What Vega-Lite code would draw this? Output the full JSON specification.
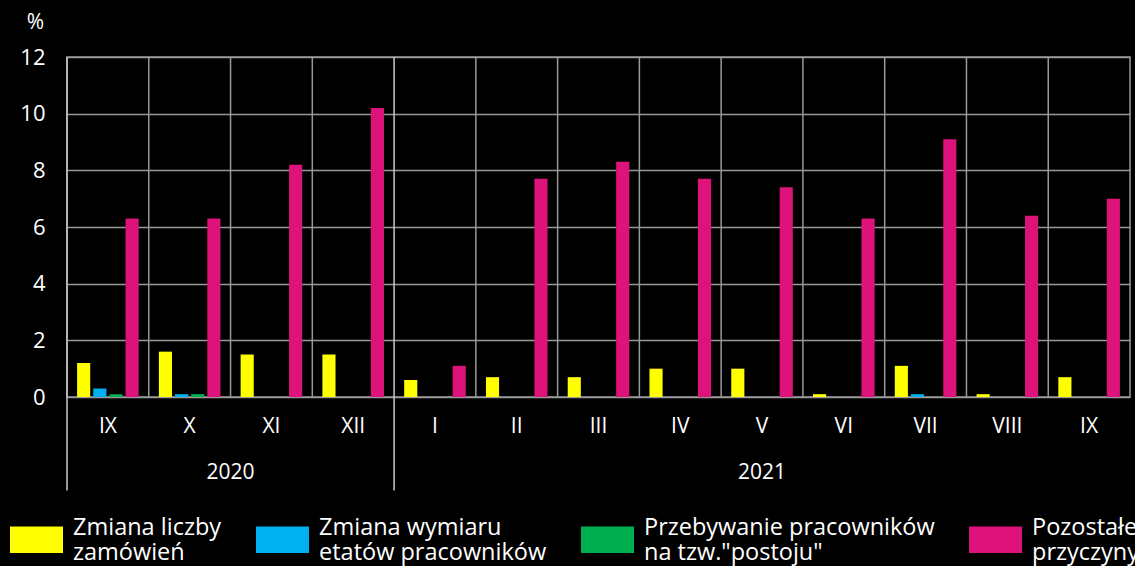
{
  "$schema": "https://vega.github.io/schema/vega-lite/v6.json",
  "width": 1063,
  "height": 340,
  "autosize": "none",
  "padding": {"left": 67, "top": 57, "right": 5, "bottom": 169},
  "background": "#000000",
  "config": {
    "font": "Open Sans",
    "view": {"stroke": "#999999", "strokeWidth": 1.5},
    "axisX": {"labelAngle": 0, "ticks": false, "domain": false, "grid": false, "labelPadding": 18, "labelFontSize": 21, "labelColor": "#ffffff", "labelFont": "Open Sans"},
    "axisY": {"grid": true, "gridColor": "#999999", "gridWidth": 1.5, "domain": false, "ticks": false, "labelPadding": 22, "labelFontSize": 22, "labelColor": "#ffffff", "labelFont": "Open Sans",
              "titleAngle": 0, "titleX": -32, "titleY": -35, "titleAlign": "center", "titleBaseline": "middle", "titleFontSize": 21, "titleFontWeight": "normal", "titleColor": "#ffffff", "titleFont": "Open Sans"},
    "legend": {"labelFont": "Open Sans"},
    "text": {"font": "Open Sans"}
  },
  "datasets": {
    "bars": [
      {"key": "2020-IX", "series": "Zmiana liczby zamówień", "value": 1.2},
      {"key": "2020-IX", "series": "Zmiana wymiaru etatów pracowników", "value": 0.3},
      {"key": "2020-IX", "series": "Przebywanie pracowników na tzw.\"postoju\"", "value": 0.1},
      {"key": "2020-IX", "series": "Pozostałe przyczyny", "value": 6.3},
      {"key": "2020-X", "series": "Zmiana liczby zamówień", "value": 1.6},
      {"key": "2020-X", "series": "Zmiana wymiaru etatów pracowników", "value": 0.1},
      {"key": "2020-X", "series": "Przebywanie pracowników na tzw.\"postoju\"", "value": 0.1},
      {"key": "2020-X", "series": "Pozostałe przyczyny", "value": 6.3},
      {"key": "2020-XI", "series": "Zmiana liczby zamówień", "value": 1.5},
      {"key": "2020-XI", "series": "Zmiana wymiaru etatów pracowników", "value": 0},
      {"key": "2020-XI", "series": "Przebywanie pracowników na tzw.\"postoju\"", "value": 0},
      {"key": "2020-XI", "series": "Pozostałe przyczyny", "value": 8.2},
      {"key": "2020-XII", "series": "Zmiana liczby zamówień", "value": 1.5},
      {"key": "2020-XII", "series": "Zmiana wymiaru etatów pracowników", "value": 0},
      {"key": "2020-XII", "series": "Przebywanie pracowników na tzw.\"postoju\"", "value": 0},
      {"key": "2020-XII", "series": "Pozostałe przyczyny", "value": 10.2},
      {"key": "2021-I", "series": "Zmiana liczby zamówień", "value": 0.6},
      {"key": "2021-I", "series": "Zmiana wymiaru etatów pracowników", "value": 0},
      {"key": "2021-I", "series": "Przebywanie pracowników na tzw.\"postoju\"", "value": 0},
      {"key": "2021-I", "series": "Pozostałe przyczyny", "value": 1.1},
      {"key": "2021-II", "series": "Zmiana liczby zamówień", "value": 0.7},
      {"key": "2021-II", "series": "Zmiana wymiaru etatów pracowników", "value": 0},
      {"key": "2021-II", "series": "Przebywanie pracowników na tzw.\"postoju\"", "value": 0},
      {"key": "2021-II", "series": "Pozostałe przyczyny", "value": 7.7},
      {"key": "2021-III", "series": "Zmiana liczby zamówień", "value": 0.7},
      {"key": "2021-III", "series": "Zmiana wymiaru etatów pracowników", "value": 0},
      {"key": "2021-III", "series": "Przebywanie pracowników na tzw.\"postoju\"", "value": 0},
      {"key": "2021-III", "series": "Pozostałe przyczyny", "value": 8.3},
      {"key": "2021-IV", "series": "Zmiana liczby zamówień", "value": 1.0},
      {"key": "2021-IV", "series": "Zmiana wymiaru etatów pracowników", "value": 0},
      {"key": "2021-IV", "series": "Przebywanie pracowników na tzw.\"postoju\"", "value": 0},
      {"key": "2021-IV", "series": "Pozostałe przyczyny", "value": 7.7},
      {"key": "2021-V", "series": "Zmiana liczby zamówień", "value": 1.0},
      {"key": "2021-V", "series": "Zmiana wymiaru etatów pracowników", "value": 0},
      {"key": "2021-V", "series": "Przebywanie pracowników na tzw.\"postoju\"", "value": 0},
      {"key": "2021-V", "series": "Pozostałe przyczyny", "value": 7.4},
      {"key": "2021-VI", "series": "Zmiana liczby zamówień", "value": 0.1},
      {"key": "2021-VI", "series": "Zmiana wymiaru etatów pracowników", "value": 0},
      {"key": "2021-VI", "series": "Przebywanie pracowników na tzw.\"postoju\"", "value": 0},
      {"key": "2021-VI", "series": "Pozostałe przyczyny", "value": 6.3},
      {"key": "2021-VII", "series": "Zmiana liczby zamówień", "value": 1.1},
      {"key": "2021-VII", "series": "Zmiana wymiaru etatów pracowników", "value": 0.1},
      {"key": "2021-VII", "series": "Przebywanie pracowników na tzw.\"postoju\"", "value": 0},
      {"key": "2021-VII", "series": "Pozostałe przyczyny", "value": 9.1},
      {"key": "2021-VIII", "series": "Zmiana liczby zamówień", "value": 0.1},
      {"key": "2021-VIII", "series": "Zmiana wymiaru etatów pracowników", "value": 0},
      {"key": "2021-VIII", "series": "Przebywanie pracowników na tzw.\"postoju\"", "value": 0},
      {"key": "2021-VIII", "series": "Pozostałe przyczyny", "value": 6.4},
      {"key": "2021-IX", "series": "Zmiana liczby zamówień", "value": 0.7},
      {"key": "2021-IX", "series": "Zmiana wymiaru etatów pracowników", "value": 0},
      {"key": "2021-IX", "series": "Przebywanie pracowników na tzw.\"postoju\"", "value": 0},
      {"key": "2021-IX", "series": "Pozostałe przyczyny", "value": 7.0}
    ],
    "months": [
      {"key": "2020-X"}, {"key": "2020-XI"}, {"key": "2020-XII"},
      {"key": "2021-II"}, {"key": "2021-III"}, {"key": "2021-IV"}, {"key": "2021-V"},
      {"key": "2021-VI"}, {"key": "2021-VII"}, {"key": "2021-VIII"}, {"key": "2021-IX"}
    ],
    "separators": [
      {"key": "2020-IX"}, {"key": "2021-I"}
    ],
    "years": [
      {"key": "2020-X", "year": "2020", "anchor": "end"},
      {"key": "2021-V", "year": "2021", "anchor": "middle"}
    ]
  },
  "layer": [
    {
      "data": {"name": "bars"},
      "mark": {"type": "bar"},
      "encoding": {
        "x": {"field": "key", "type": "nominal",
              "scale": {"domain": ["2020-IX","2020-X","2020-XI","2020-XII","2021-I","2021-II","2021-III","2021-IV","2021-V","2021-VI","2021-VII","2021-VIII","2021-IX"], "paddingInner": 0, "paddingOuter": 0},
              "axis": {"title": null, "labelExpr": "split(datum.value, '-')[1]", "labelFont": "Open Sans"}},
        "xOffset": {"field": "series", "type": "nominal",
                    "scale": {"domain": ["Zmiana liczby zamówień", "Zmiana wymiaru etatów pracowników", "Przebywanie pracowników na tzw.\"postoju\"", "Pozostałe przyczyny"], "paddingInner": 0.1875, "paddingOuter": 0.625}},
        "y": {"field": "value", "type": "quantitative", "scale": {"domain": [0, 12]},
              "axis": {"values": [0, 2, 4, 6, 8, 10, 12], "title": "%"}},
        "color": {"field": "series", "type": "nominal",
                  "scale": {"domain": ["Zmiana liczby zamówień", "Zmiana wymiaru etatów pracowników", "Przebywanie pracowników na tzw.\"postoju\"", "Pozostałe przyczyny"], "range": ["#ffff00", "#00b0f0", "#00b050", "#dd137b"]},
                  "legend": {"orient": "none", "legendX": -57, "legendY": 456, "direction": "horizontal", "title": null,
                             "symbolType": "M-1,-0.5H1V0.5H-1Z", "symbolSize": 2809, "symbolStrokeWidth": 0, "symbolOpacity": 1,
                             "labelFontSize": 23.5, "labelColor": "#ffffff", "labelOffset": 10, "labelLimit": 0, "columnPadding": 34, "labelBaseline": "bottom",
                             "labelExpr": "indexof(datum.label, 'liczby') >= 0 ? ['Zmiana liczby', 'zamówień'] : indexof(datum.label, 'wymiaru') >= 0 ? ['Zmiana wymiaru', 'etatów pracowników'] : indexof(datum.label, 'Przebywanie') >= 0 ? ['Przebywanie pracowników', 'na tzw.\"postoju\"'] : ['Pozostałe', 'przyczyny']"}}
      }
    },
    {
      "data": {"name": "months"},
      "mark": {"type": "rule", "color": "#999999", "strokeWidth": 1.5},
      "encoding": {
        "x": {"field": "key", "type": "nominal", "bandPosition": 0,
              "scale": {"domain": ["2020-IX","2020-X","2020-XI","2020-XII","2021-I","2021-II","2021-III","2021-IV","2021-V","2021-VI","2021-VII","2021-VIII","2021-IX"], "paddingInner": 0, "paddingOuter": 0}},
        "y": {"datum": 0, "type": "quantitative", "scale": {"domain": [0, 12]}},
        "y2": {"datum": 12}
      }
    },
    {
      "data": {"name": "separators"},
      "mark": {"type": "rule", "color": "#c8c8c8", "strokeWidth": 1.5},
      "encoding": {
        "x": {"field": "key", "type": "nominal", "bandPosition": 0,
              "scale": {"domain": ["2020-IX","2020-X","2020-XI","2020-XII","2021-I","2021-II","2021-III","2021-IV","2021-V","2021-VI","2021-VII","2021-VIII","2021-IX"], "paddingInner": 0, "paddingOuter": 0}},
        "y": {"datum": -3.3, "type": "quantitative", "scale": {"domain": [0, 12]}},
        "y2": {"datum": 12}
      }
    },
    {
      "data": {"name": "years"},
      "transform": [{"filter": "datum.anchor == 'end'"}],
      "mark": {"type": "text", "color": "#ffffff", "fontSize": 21, "baseline": "middle", "align": "center", "font": "Open Sans"},
      "encoding": {
        "x": {"field": "key", "type": "nominal", "bandPosition": 1,
              "scale": {"domain": ["2020-IX","2020-X","2020-XI","2020-XII","2021-I","2021-II","2021-III","2021-IV","2021-V","2021-VI","2021-VII","2021-VIII","2021-IX"], "paddingInner": 0, "paddingOuter": 0}},
        "y": {"datum": -2.68, "type": "quantitative", "scale": {"domain": [0, 12]}},
        "text": {"field": "year"}
      }
    },
    {
      "data": {"name": "years"},
      "transform": [{"filter": "datum.anchor == 'middle'"}],
      "mark": {"type": "text", "color": "#ffffff", "fontSize": 21, "baseline": "middle", "align": "center", "font": "Open Sans"},
      "encoding": {
        "x": {"field": "key", "type": "nominal", "bandPosition": 0.5,
              "scale": {"domain": ["2020-IX","2020-X","2020-XI","2020-XII","2021-I","2021-II","2021-III","2021-IV","2021-V","2021-VI","2021-VII","2021-VIII","2021-IX"], "paddingInner": 0, "paddingOuter": 0}},
        "y": {"datum": -2.68, "type": "quantitative", "scale": {"domain": [0, 12]}},
        "text": {"field": "year"}
      }
    }
  ]
}
